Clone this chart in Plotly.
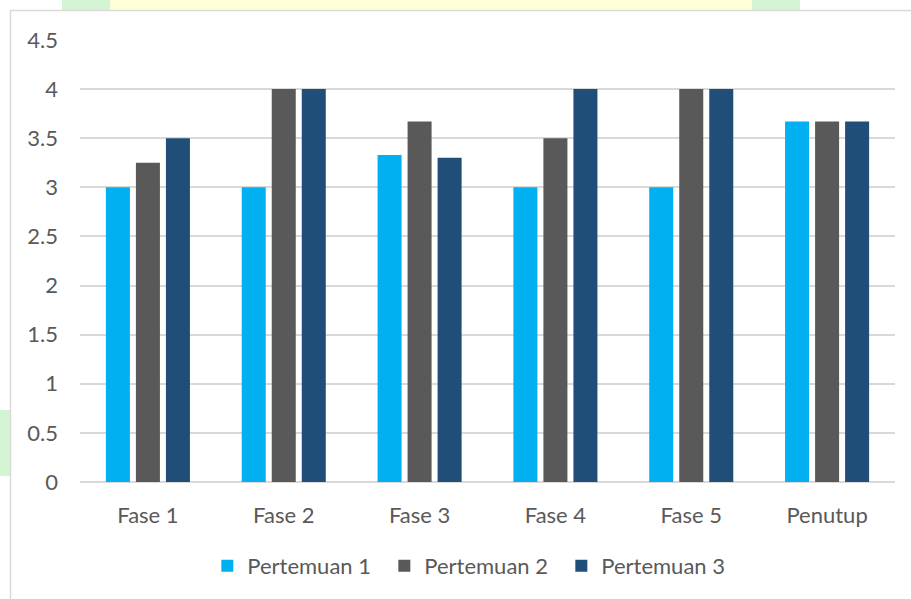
import plotly.graph_objects as go

categories = ["Fase 1", "Fase 2", "Fase 3", "Fase 4", "Fase 5", "Penutup"]
pertemuan1 = [3, 3, 3.33, 3, 3, 3.67]
pertemuan2 = [3.25, 4, 3.67, 3.5, 4, 3.67]
pertemuan3 = [3.5, 4, 3.3, 4, 4, 3.67]
series_names = ["Pertemuan 1", "Pertemuan 2", "Pertemuan 3"]
colors = ["#00B0F0", "#595959", "#1F4E79"]
y_ticks = [0, 0.5, 1, 1.5, 2, 2.5, 3, 3.5, 4, 4.5]
y_tick_text = ["0", "0.5", "1", "1.5", "2", "2.5", "3", "3.5", "4", "4.5"]

W, H = 911, 599
L, R, T, B = 80, 16, 40, 117
pw, ph = W - L - R, H - T - B

def px(x):
    return (x - L) / pw

def py(y):
    return (H - B - y) / ph

fig = go.Figure()
for name, vals, c in zip(series_names, [pertemuan1, pertemuan2, pertemuan3], colors):
    fig.add_trace(go.Bar(x=categories, y=vals, name=name, marker_color=c,
                         marker_line_width=0))

shapes = []
# faint watermark remnants
for (x0, y0, x1, y1, col) in [
    (62, 0, 110, 10, "#D3F5D3"),
    (110, 0, 752, 10, "#FFFFD9"),
    (752, 0, 800, 10, "#D3F5D3"),
    (0, 410, 10, 476, "#D3F5D3"),
]:
    shapes.append(dict(type="rect", xref="paper", yref="paper",
                       x0=px(x0), x1=px(x1), y0=py(y1), y1=py(y0),
                       fillcolor=col, line_width=0, layer="below"))
# chart frame
shapes.append(dict(type="line", xref="paper", yref="paper",
                   x0=px(10), x1=px(911), y0=py(10.5), y1=py(10.5),
                   line=dict(color="#D9D9D9", width=1.5)))
shapes.append(dict(type="line", xref="paper", yref="paper",
                   x0=px(10.5), x1=px(10.5), y0=py(10), y1=py(599),
                   line=dict(color="#D9D9D9", width=1.5)))

FONT = "Lato"
fig.update_layout(
    width=W, height=H,
    margin=dict(l=L, r=R, t=T, b=B),
    paper_bgcolor="white", plot_bgcolor="white",
    barmode="group", bargap=0.337, bargroupgap=0.2,
    font=dict(family=FONT, size=22, color="#595959"),
    shapes=shapes,
    showlegend=True,
    legend=dict(orientation="h", x=0.482, xanchor="center", y=-0.19, yanchor="middle",
                font=dict(family=FONT, size=22, color="#595959"), itemwidth=30,
                entrywidth=132, traceorder="normal"),
    xaxis=dict(showgrid=False, showline=False, ticks="", ticklabelstandoff=18,
               tickfont=dict(family=FONT, size=22, color="#595959")),
    yaxis=dict(range=[0, 4.5], tickvals=y_ticks, ticktext=y_tick_text,
               showgrid=True, gridcolor="#D9D9D9", gridwidth=1.5,
               zeroline=True, zerolinecolor="#D9D9D9", zerolinewidth=1.5,
               showline=False, ticks="", ticklabelstandoff=21,
               tickfont=dict(family=FONT, size=22, color="#595959")),
)

fig.write_html("out.html")
